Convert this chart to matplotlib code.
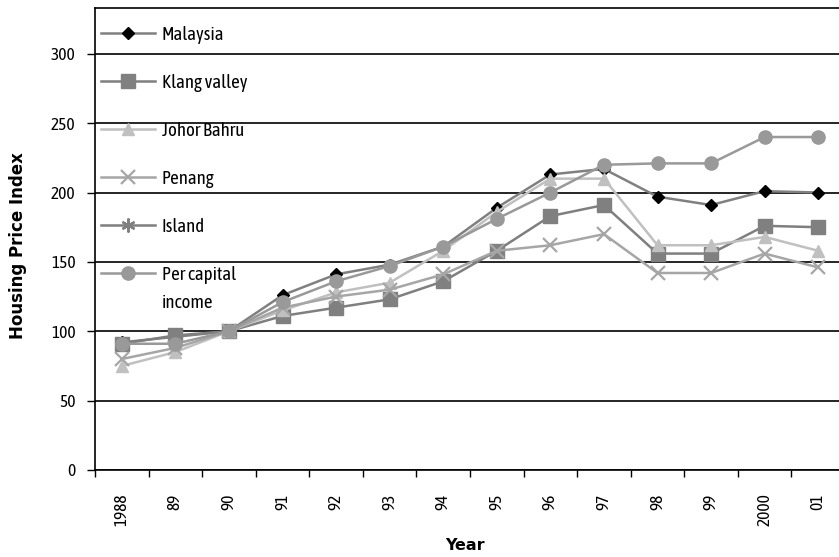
import matplotlib.pyplot as plt
import numpy as np

plt.rcParams['font.family'] = ['Asap Condensed', 'DejaVu Sans']

years = ['1988', '89', '90', '91', '92', '93', '94', '95', '96', '97',
         '98', '99', '2000', '01']
malaysia = [92, 96, 100, 126, 141, 148, 161, 189, 213, 217, 197, 191, 201, 200]
klang_valley = [91, 97, 100, 111, 117, 123, 136, 158, 183, 191, 156, 156, 176, 175]
johor_bahru = [75, 85, 100, 115, 128, 135, 158, 186, 210, 210, 162, 162, 168, 158]
penang = [80, 88, 100, 117, 125, 130, 141, 158, 162, 170, 142, 142, 156, 146]
island = [None] * len(years)  # series listed in the key, no values plotted
per_capita = [91, 91, 100, 121, 136, 147, 161, 181, 200, 220, 221, 221, 240, 240]

series = [
    ("Malaysia", malaysia, dict(color="#808080", marker="D", ms=6.5, mfc="black", mec="black")),
    ("Klang valley", klang_valley, dict(color="#7f7f7f", marker="s", ms=9.5, mfc="#808080", mec="#808080")),
    ("Johor Bahru", johor_bahru, dict(color="#c0c0c0", marker="^", ms=9, mfc="#c0c0c0", mec="#c0c0c0")),
    ("Penang", penang, dict(color="#a6a6a6", marker="x", ms=10, mew=1.6)),
    ("Island", island, dict(color="#7f7f7f", marker=(6, 2, 0), ms=10, mew=1.6)),
    ("Per capital\nincome", per_capita, dict(color="#999999", marker="o", ms=9.5, mfc="#999999", mec="#999999")),
]

fig = plt.figure(figsize=(8.39, 5.57), dpi=100)
ax = fig.add_axes([95 / 839, 87 / 557, 750 / 839, 462 / 557])

x = np.arange(len(years))
for label, vals, style in series:
    y = np.array([np.nan if v is None else v for v in vals], dtype=float)
    ax.plot(x, y, lw=1.8, label=label, **style)

ax.set_xlim(-0.5, len(years) - 0.5)
ax.set_ylim(0, 333)
ax.set_yticks(np.arange(0, 301, 50))
ax.yaxis.grid(True, color="black", lw=1.2)
ax.set_axisbelow(True)

ax.set_xticks(x)
ax.set_xticklabels(years, rotation=90, fontsize=12.5)
ax.set_xticks(np.arange(-0.5, len(years), 1.0), minor=True)
ax.tick_params(axis="x", which="major", length=0, pad=17)
ax.tick_params(axis="x", which="minor", length=5, width=1, direction="out")
ax.tick_params(axis="y", length=5.5, width=1, direction="out", labelsize=12.5, pad=8.5)

for side in ["left", "bottom", "top"]:
    ax.spines[side].set_linewidth(1.2)
ax.spines["right"].set_visible(False)

ax.set_ylabel("Housing Price Index", fontsize=12, fontweight="bold",
              family="DejaVu Sans")
ax.yaxis.set_label_coords(-0.09, 0.485)
ax.set_xlabel("Year", fontsize=11.5, fontweight="bold", family="DejaVu Sans")
ax.xaxis.set_label_coords(0.493, -0.147)

leg = ax.legend(loc="upper left", bbox_to_anchor=(6 / 750, 0.961), frameon=False,
                fontsize=13.5, handlelength=2.9, handletextpad=0.35,
                labelspacing=1.6, borderpad=0, borderaxespad=0)
# two-line entry: wider line gap, key line level with the first line
leg.get_texts()[-1].set_linespacing(1.7)
leg._legend_handle_box.get_children()[0].get_children()[-1].align = "top"

fig.savefig("out.png", dpi=100)
